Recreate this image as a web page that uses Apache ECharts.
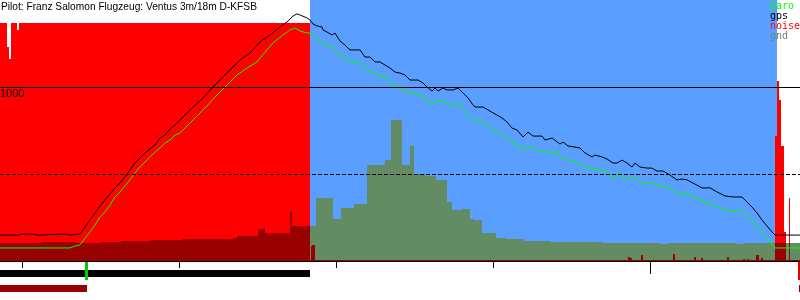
<!DOCTYPE html>
<html><head><meta charset="utf-8">
<script src="https://cdn.jsdelivr.net/npm/echarts@6/dist/echarts.min.js"></script>
<style>html,body{margin:0;padding:0;background:#fff}#c{width:800px;height:300px}</style>
</head><body><div id="c"></div>
<script>
// ---------- data (time in minutes since logger start, altitude in m) ----------
const titleText = 'Pilot: Franz Salomon Flugzeug: Ventus 3m/18m D-KFSB';
const legendNames = ['baro', 'gps', 'noise', 'gnd'];
const timeMax = 152.86;
const tickMinor = [4.2, 34.2, 64.2, 94.2];
const tickMajor = [124.2];
const altRefSolid = 1000;
const altRefDashed = 500;

const gps = [[0,149],[3.25,149],[3.44,155],[4.59,155],[4.78,149],[4.97,155],[6.31,155],[6.5,149],[7.26,149],[7.45,155],[12.61,155],[12.8,149],[13.38,149],[13.57,155],[15.29,155],
[16.24,195],[17.2,236],[18.15,276],[19.11,316],[20.06,351],[21.02,385],[21.97,420],[22.93,448],[23.89,483],[24.84,523],[25.8,563],[26.75,592],[27.71,621],[28.66,644],[29.62,667],[30.57,707],[31.53,724],[32.48,759],[33.44,782],[34.39,810],[36.31,868],[38.6,931],[40.7,1000],[42.04,1040],[43.95,1098],[45.86,1155],[47.77,1195],[49.68,1259],[51.59,1299],[53.5,1345],[54.84,1374],[55.99,1408],[56.75,1420],[57.32,1414],[58.66,1397],
[59.23,1385],[59.81,1362],[60.57,1351],[61.53,1345],[61.72,1328],[62.48,1316],[63.44,1299],[64.01,1310],[64.97,1264],[65.92,1241],[66.88,1213],[68.79,1213],[69.74,1172],[70.7,1172],[71.66,1144],[72.61,1144],[73.57,1126],[74.52,1109],[75.48,1086],[76.43,1080],[77.39,1069],[78.34,1040],[79.87,1040],[80.83,1023],[81.59,1000],[82.55,977],[83.12,994],[83.69,977],[84.65,994],[85.41,983],[86.56,983],[87.51,994],[88.47,966],[89.43,937],[90.38,897],[90.76,885],[92.29,885],[93.25,868],[94.58,845],[95.92,822],[96.88,799],[97.83,764],[98.79,753],[99.93,713],[100.89,741],[101.85,718],[103.57,718],[104.14,695],[105.48,707],[107,672],[107.58,684],[108.53,661],[109.87,655],[110.83,649],[111.78,621],[113.12,598],[113.69,609],[115.03,598],[115.99,586],[117.13,563],[117.9,563],[118.85,580],[119.81,563],[120.76,540],[121.34,563],[122.29,540],[123.63,534],[124.58,534],[125.54,517],[126.69,517],[128.02,494],[129.36,466],[130.32,471],[131.27,466],[132.42,448],[134.14,420],[135.67,420],[137,397],[138.53,374],[140.06,368],[141.78,368],[142.74,339],[143.69,310],[144.65,276],[145.6,236],[146.56,201],[147.51,167],[148.09,149],[152.86,149]];

const baro = [[0,75],[11.08,75],[11.46,80],[11.66,75],[13.38,75],[14.33,86],[15.29,92],[16.24,132],[17.2,167],[18.15,207],[19.11,253],[20.06,282],[21.02,322],[21.97,368],[22.93,397],[23.89,431],[24.84,466],[25.8,506],[26.75,540],[27.71,569],[28.66,598],[29.62,626],[30.57,649],[31.53,678],[32.48,695],[33.44,724],[34.39,736],[35.35,764],[36.31,793],[39.17,879],[41.46,954],[43.38,1011],[45.29,1069],[47.2,1109],[49.11,1144],[50.64,1201],[52.16,1253],[54.08,1299],[55.41,1328],[56.37,1339],[57.32,1322],[58.66,1310],
[59.23,1310],[60.19,1287],[61.15,1259],[62.1,1253],[63.06,1224],[63.63,1230],[64.59,1195],[66.3,1155],[67.45,1144],[68.79,1138],[70.13,1098],[71.27,1086],[72.61,1063],[73.95,1052],[75.09,1011],[76.43,994],[77.77,971],[79.3,960],[80.64,948],[81.59,925],[82.55,902],[83.5,914],[84.46,925],[85.41,902],[86.56,897],[87.51,914],[88.47,874],[89.81,828],[90.38,810],[92.1,799],[93.25,776],[94.2,753],[95.54,736],[96.88,707],[97.83,678],[98.98,667],[99.93,638],[100.7,661],[101.65,655],[102.61,632],[103.76,632],[105.09,621],[106.43,626],[107,598],[108.53,580],[109.87,575],[110.83,552],[112.16,540],[113.69,529],[114.65,523],[115.99,511],[117.13,483],[118.47,494],[119.81,471],[120.95,483],[122.29,454],[123.63,448],[124.78,443],[126.11,431],[127.45,425],[128.41,408],[129.36,391],[130.51,385],[131.46,385],[132.8,368],[134.33,339],[135.67,328],[137.2,310],[138.53,293],[140.06,287],[141.78,287],[142.74,264],[143.69,236],[144.65,195],[145.6,161],[146.56,132],[147.51,92],[148.09,75],[152.86,75]];

// engine noise level (steps: start time, value)
const noiseT = [0,1.34,1.72,2.1,3.25,3.63,59.23,59.43,59.62,60.19,120,120.38,120.76,122.48,122.86,128.6,128.98,132.61,132.99,133.95,134.33,138.92,139.3,141.97,142.35,142.74,143.12,144.46,145.03,145.41,145.8,148.09,148.47,148.85,149.23,149.81,150.19,150.76,150.95];
const noiseV = [999,898,848,999,969,999,4,63,67,4,17,13,4,25,4,29,4,17,4,13,4,17,4,8,4,8,4,25,4,13,4,524,755,676,483,122,4,264,4];

// ground speed (steps: start time, km/h)
const gndT = [0,8.03,14.33,19.11,23.12,28.85,34.78,44.52,45.29,49.3,50.64,55.41,55.8,60.38,63.63,65.16,67.64,70.13,73.57,74.71,76.81,78.34,79.11,81.21,83.31,85.41,86.37,88.28,89.81,90.57,92.1,94.78,96.69,100.13,105.09,115.03,126.11,127.64,140.63,141.97];
const gndV = [20.7,21.8,20.7,21.8,23,24.1,25.3,26.4,28.7,36.8,32.2,56.3,40.2,72.4,48.3,60.9,65.5,110.3,116.1,162.1,110.3,132.2,100,97.7,93.1,67.8,58.6,59.8,48.3,47.1,32.2,26.4,25.3,23,21.8,20.7,19.5,20.7,19.5,20.7];

// flight phases / events
const glidePhase = [[59.23, 148.47]];
const motorRun = [[0, 59.23]];
const groundRoll = [[0, 16.62]];
const takeoffMark = [[16.24, 16.82]];
const endMark = [[152.48, 152.86]];
const endLow = [[152.67, 152.86]];

// ---------- styles ----------
const C = {
  baro: '#00ff00', gps: '#000000', noise: '#ff0000', gnd: '#648c64',
  noiseLow: '#990000', blue: '#5a9eff'
};
const LOUD = 100;

// ---------- build step segments ----------
function steps(T, V, end) { return T.map((t, i) => [t, i + 1 < T.length ? T[i + 1] : end, V[i]]); }
const noiseSteps = steps(noiseT, noiseV, timeMax);
const gndSteps = steps(gndT, gndV, timeMax);
function noiseAt(t) {
  for (const s of noiseSteps) if (t >= s[0] && t < s[1]) return s[2];
  return 0;
}
const gndSeg = [];
gndSteps.forEach(([a, b, v]) => {
  const cuts = [a, ...noiseT.filter(t => t > a && t < b), b];
  for (let i = 0; i < cuts.length - 1; i++) {
    const m = (cuts[i] + cuts[i + 1]) / 2;
    gndSeg.push([cuts[i], cuts[i + 1], v, noiseAt(m) >= LOUD ? 1 : 0]);
  }
});

function stepRender(colorFn) {
  return function (params, api) {
    const p0 = api.coord([api.value(0), api.value(2)]);
    const p1 = api.coord([api.value(1), 0]);
    const x0 = Math.round(p0[0]), x1 = Math.round(p1[0]);
    const y0 = Math.round(p0[1]), y1 = Math.round(p1[1]);
    return { type: 'rect', shape: { x: x0, y: y0, width: Math.max(1, x1 - x0), height: y1 - y0 },
      style: { fill: colorFn(api) } };
  };
}
function laneRender(off, h, color) {
  return function (params, api) {
    const p0 = api.coord([api.value(0), 0]);
    const p1 = api.coord([api.value(1), 0]);
    const x0 = Math.round(p0[0]), x1 = Math.round(p1[0]);
    return { type: 'rect', shape: { x: x0, y: Math.round(p0[1]) + off, width: Math.max(1, x1 - x0), height: h },
      style: { fill: color } };
  };
}

const chart = echarts.init(document.getElementById('c'), null, { renderer: 'canvas' });
chart.setOption({
  animation: false,
  backgroundColor: '#ffffff',
  title: { text: titleText, left: 0, top: 0, padding: [2, 1],
    textStyle: { fontFamily: 'Liberation Sans', fontSize: 10.2, fontWeight: 'normal', color: '#000' } },
  grid: { left: 0, right: 0, top: 0, bottom: 39, containLabel: false, outerBoundsMode: 'none' },
  xAxis: [
    { type: 'value', min: 0, max: timeMax, splitLine: { show: false },
      axisLine: { show: true, lineStyle: { color: '#000', width: 1 } },
      axisTick: { show: true, length: 7, customValues: tickMinor, lineStyle: { color: '#000' } },
      axisLabel: { show: false } },
    { type: 'value', min: 0, max: timeMax, position: 'bottom', splitLine: { show: false },
      axisLine: { show: false },
      axisTick: { show: true, length: 13, customValues: tickMajor, lineStyle: { color: '#000' } },
      axisLabel: { show: false } }
  ],
  yAxis: [
    { type: 'value', min: 0, max: 1500, show: false, splitLine: { show: false } },
    { type: 'value', min: 0, max: 1095, show: false, splitLine: { show: false } },
    { type: 'value', min: 0, max: 300, show: false, splitLine: { show: false } }
  ],
  graphic: legendNames.map((n, i) => ({
    type: 'text', left: 770, top: 1 + i * 10, z: 100,
    style: { text: n, fill: C[n], font: '10px "DejaVu Sans Mono"' }
  })),
  series: [
    { name: 'glide', type: 'custom', coordinateSystem: 'cartesian2d', z: 0, silent: true,
      data: glidePhase, encode: { x: [0, 1] },
      renderItem: function (params, api) {
        const p0 = api.coord([api.value(0), 0]);
        const p1 = api.coord([api.value(1), 0]);
        const cs = params.coordSys;
        const x0 = Math.round(p0[0]), x1 = Math.round(p1[0]);
        return { type: 'rect', shape: { x: x0, y: cs.y, width: x1 - x0, height: cs.height },
          style: { fill: C.blue } };
      } },
    { name: 'noise', type: 'custom', yAxisIndex: 1, z: 1, silent: true,
      data: noiseSteps.filter(s => s[2] >= LOUD), encode: { x: [0, 1], y: 2 },
      renderItem: stepRender(() => C.noise) },
    { name: 'gnd', type: 'custom', yAxisIndex: 2, z: 2, silent: true,
      data: gndSeg, encode: { x: [0, 1], y: 2 },
      renderItem: stepRender(api => api.value(3) ? C.noiseLow : C.gnd) },
    { name: 'noiseLow', type: 'custom', yAxisIndex: 1, z: 3, silent: true,
      data: noiseSteps.filter(s => s[2] < LOUD), encode: { x: [0, 1], y: 2 },
      renderItem: stepRender(() => C.noiseLow) },
    { name: 'gps', type: 'line', data: gps, showSymbol: false, symbol: 'none', z: 5,
      lineStyle: { color: C.gps, width: 1 } },
    { name: 'baro', type: 'line', data: baro, showSymbol: false, symbol: 'none', z: 5,
      lineStyle: { color: C.baro, width: 1 },
      markLine: { silent: true, symbol: ['none', 'none'], z: 10, animation: false,
        data: [
          { yAxis: altRefSolid, lineStyle: { color: '#000', type: 'solid', width: 1 },
            label: { show: true, position: 'insideStartBottom', formatter: String(altRefSolid),
              color: '#000', fontFamily: 'Liberation Sans', fontSize: 11, distance: [0, 1], padding: 0 } },
          { yAxis: altRefDashed, lineStyle: { color: '#000', type: [4, 2], width: 1 }, label: { show: false } }
        ] } },
    { name: 'motorRun', type: 'custom', clip: false, z: 6, silent: true, data: motorRun,
      encode: { x: [0, 1] }, renderItem: laneRender(9, 7, '#000000') },
    { name: 'groundRoll', type: 'custom', clip: false, z: 6, silent: true, data: groundRoll,
      encode: { x: [0, 1] }, renderItem: laneRender(24, 7, C.noiseLow) },
    { name: 'takeoff', type: 'custom', clip: false, z: 7, silent: true, data: takeoffMark,
      encode: { x: [0, 1] }, renderItem: laneRender(1, 18, '#00cc00') },
    { name: 'end', type: 'custom', clip: false, z: 7, silent: true, data: endMark,
      encode: { x: [0, 1] }, renderItem: laneRender(1, 18, '#dd0000') },
    { name: 'endLow', type: 'custom', clip: false, z: 7, silent: true, data: endLow,
      encode: { x: [0, 1] }, renderItem: laneRender(24, 7, C.noiseLow) }
  ]
});
</script></body></html>
